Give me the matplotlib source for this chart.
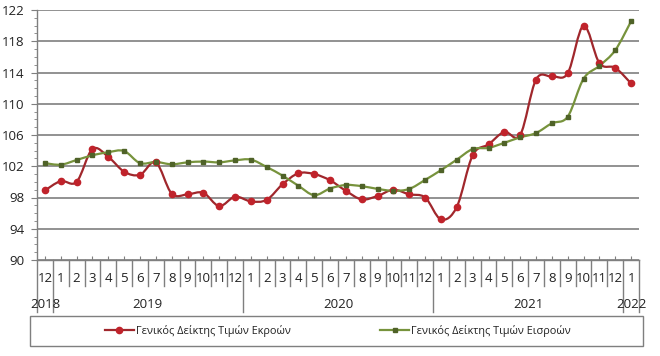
import numpy as np
import matplotlib
matplotlib.use("Agg")
import matplotlib.pyplot as plt
from matplotlib.path import Path
from matplotlib.patches import PathPatch, Rectangle
from matplotlib.lines import Line2D
from matplotlib.transforms import blended_transform_factory

plt.rcParams['font.family'] = ['Open Sans', 'DejaVu Sans']

# monthly index values, Dec 2018 .. Jan 2022
months = ["12"] + [str(m) for m in range(1, 13)] * 3 + ["1"]
years = ["2018", "2019", "2020", "2021", "2022"]
year_pos = [0, 6.5, 18.5, 30.5, 37]
year_bounds = [0.5, 12.5, 24.5, 36.5]

output_idx = [98.9, 100.1, 100.0, 104.2, 103.2, 101.3, 100.9, 102.5, 98.5, 98.4,
              98.6, 96.9, 98.1, 97.5, 97.7, 99.7, 101.1, 101.0, 100.2, 98.85,
              97.75, 98.2, 99.0, 98.4, 98.0, 95.2, 96.8, 103.4, 104.8, 106.4,
              106.0, 113.1, 113.5, 113.9, 120.0, 115.2, 114.6, 112.6]
input_idx = [102.4, 102.2, 102.8, 103.4, 103.8, 103.95, 102.4, 102.55, 102.25, 102.5,
             102.6, 102.5, 102.75, 102.85, 101.9, 100.8, 99.5, 98.3, 99.15, 99.6,
             99.45, 99.1, 98.85, 99.1, 100.25, 101.5, 102.85, 104.2, 104.35, 105.0,
             105.7, 106.25, 107.5, 108.35, 113.2, 114.85, 116.85, 120.55]

label_out = "Γενικός Δείκτης Τιμών Εκροών"
label_in = "Γενικός Δείκτης Τιμών Εισροών"

red_line, red_mk = "#A0272C", "#C0232B"
grn_line, grn_mk = "#77933C", "#4F6228"
gray = "#7F7F7F"


def smooth_path(x, y):
    # excel-like smoothed line: bezier segments through the points
    pts = np.column_stack([x, y]).astype(float)
    n = len(pts)
    verts = [pts[0]]
    codes = [Path.MOVETO]
    for i in range(n - 1):
        p0 = pts[max(i - 1, 0)]
        p1 = pts[i]
        p2 = pts[i + 1]
        p3 = pts[min(i + 2, n - 1)]
        c1 = p1 + (p2 - p0) / 6.0
        c2 = p2 - (p3 - p1) / 6.0
        verts += [c1, c2, p2]
        codes += [Path.CURVE4] * 3
    return Path(verts, codes)


fig = plt.figure(figsize=(6.6, 3.56), dpi=100, facecolor='w')
ax = fig.add_axes([37 / 660, 1 - 260 / 356, 602 / 660, 250 / 356])

x = np.arange(len(months))
for vals, lc, mc, mk, ms in [(output_idx, red_line, red_mk, 'o', 4.5),
                             (input_idx, grn_line, grn_mk, 's', 3.2)]:
    ax.add_patch(PathPatch(smooth_path(x, vals), facecolor='none', edgecolor=lc,
                           lw=1.6, zorder=3))
    ax.plot(x, vals, linestyle='none', marker=mk, markersize=ms, color=mc, zorder=4)

ax.set_xlim(-0.5, len(months) - 0.5)
ax.set_ylim(90, 122)
ax.set_yticks(range(90, 123, 4))
ax.set_yticks(range(90, 123, 1), minor=True)
ax.yaxis.grid(True, color=gray, lw=1.2)
ax.set_axisbelow(True)
for s in ['top', 'right']:
    ax.spines[s].set_visible(False)
for s in ['left', 'bottom']:
    ax.spines[s].set_color(gray)
    ax.spines[s].set_linewidth(1.0)
ax.tick_params(axis='y', which='major', direction='out', length=4, color=gray,
               labelsize=9.5, pad=5, labelcolor='#222222')
ax.tick_params(axis='y', which='minor', direction='out', length=2.5, color=gray)

ax.set_xticks(x)
ax.set_xticklabels(months)
ax.tick_params(axis='x', direction='in', length=3, color=gray, labelsize=9.5,
               pad=9, labelcolor='#222222')

trans = blended_transform_factory(ax.transData, ax.transAxes)
for b in np.arange(0.5, len(months) - 1, 1.0):
    bottom = -0.208 if b in year_bounds else -0.104
    ax.add_line(Line2D([b, b], [0, bottom], transform=trans, color=gray, lw=1.0,
                       clip_on=False))
for b in [-0.5, len(months) - 0.5]:
    ax.add_line(Line2D([b, b], [0, -0.208], transform=trans, color=gray, lw=1.0,
                       clip_on=False))
for yl, yp in zip(years, year_pos):
    ax.text(yp, -0.176, yl, transform=trans, ha='center', va='center',
            fontsize=9.5, color='#222222')

# legend box below the axis
fig.patches.append(Rectangle((30 / 660, 1 - 346 / 356), 613 / 660, 30 / 356,
                             transform=fig.transFigure, fill=False,
                             edgecolor=gray, lw=1.0))
handles = [Line2D([], [], color=red_line, lw=1.6, marker='o', markersize=4.5,
                  markerfacecolor=red_mk, markeredgecolor=red_mk),
           Line2D([], [], color=grn_line, lw=1.6, marker='s', markersize=3.2,
                  markerfacecolor=grn_mk, markeredgecolor=grn_mk)]
fig.legend(handles, [label_out, label_in], loc='center', ncol=2,
           bbox_to_anchor=(338 / 660, 1 - 331 / 356), frameon=False,
           fontsize=7.8, handlelength=2.7, handletextpad=0.2, columnspacing=8.2,
           labelcolor='#222222')

fig.savefig('out.png', dpi=100, facecolor='w')
